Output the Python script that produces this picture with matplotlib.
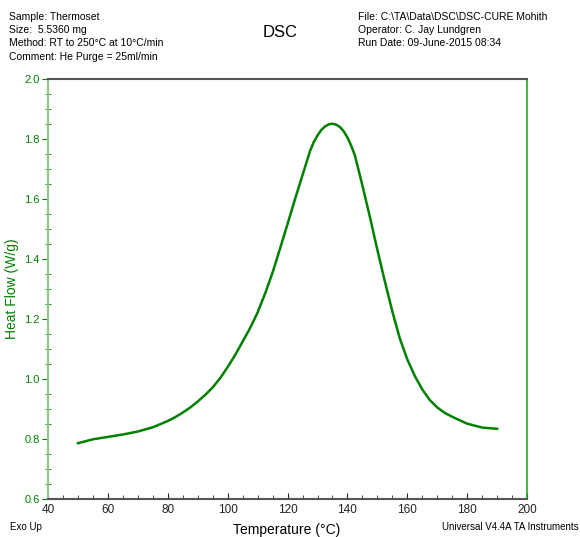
import matplotlib.pyplot as plt
from matplotlib.ticker import MultipleLocator

plt.rcParams['font.family'] = ['Liberation Sans Narrow', 'Liberation Sans', 'DejaVu Sans']

# DSC cure exotherm
temp = [50, 55, 60, 65, 70, 75, 80, 82.5, 85, 87.5, 90, 92.5, 95, 97.5,
        100, 102.5, 105, 107.5, 110, 112.5, 115, 117.5, 120, 122.5,
        125, 127.5, 128.75, 130, 131.25, 132.5, 133.75, 135, 136.25, 137.5,
        138.75, 140, 141.25, 142.5, 145, 147.5,
        150, 152.5, 155, 157.5, 160, 162.5, 165, 167.5, 170, 172.5, 175,
        180, 185, 190]
heat_flow = [0.786, 0.799, 0.807, 0.815, 0.825, 0.839, 0.860, 0.873, 0.888, 0.905,
             0.925, 0.947, 0.972, 1.003,
             1.04, 1.08, 1.125, 1.17, 1.222, 1.285, 1.355, 1.435, 1.517, 1.60,
             1.68, 1.76, 1.79, 1.812, 1.83, 1.842, 1.849, 1.851, 1.848, 1.84,
             1.826, 1.805, 1.778, 1.745, 1.645, 1.54,
             1.43, 1.325, 1.225, 1.135, 1.065, 1.01, 0.965, 0.93, 0.905, 0.887, 0.874,
             0.851, 0.838, 0.834]

header_left = ["Sample: Thermoset", "Size:  5.5360 mg",
               "Method: RT to 250\u00b0C at 10\u00b0C/min",
               "Comment: He Purge = 25ml/min"]
header_right = ["File: C:\\TA\\Data\\DSC\\DSC-CURE Mohith",
                "Operator: C. Jay Lundgren",
                "Run Date: 09-June-2015 08:34"]

green = '#008000'

fig = plt.figure(figsize=(5.8, 5.37), dpi=100)
ax = fig.add_axes([0.0828, 0.0708, 0.826, 0.782])

ax.plot(temp, heat_flow, color=green, linewidth=1.8, solid_joinstyle='round')

ax.set_xlim(40, 200)
ax.set_ylim(0.6, 2.0)
ax.xaxis.set_major_locator(MultipleLocator(20))
ax.xaxis.set_minor_locator(MultipleLocator(5))
ax.yaxis.set_major_locator(MultipleLocator(0.2))
ax.yaxis.set_minor_locator(MultipleLocator(0.05))
ax.yaxis.set_major_formatter(plt.FormatStrFormatter('%.1f'))

ax.tick_params(axis='x', which='both', direction='in', colors='#222222', labelsize=8.5)
ax.tick_params(axis='x', which='major', length=4)
ax.tick_params(axis='x', which='minor', length=3)
ax.tick_params(axis='y', which='major', direction='out', length=4, pad=2,
               colors=green, labelsize=8)
ax.tick_params(axis='y', which='minor', direction='inout', length=4, colors=green)

ax.spines['left'].set_color('#8cc88c')
ax.spines['left'].set_linewidth(1.5)
ax.spines['right'].set_color('#22aa22')
ax.spines['right'].set_linewidth(1.2)
ax.spines['top'].set_color('#555555')
ax.spines['top'].set_linewidth(1.5)
ax.spines['bottom'].set_color('#555555')
ax.spines['bottom'].set_linewidth(1.5)

ax.set_ylabel('Heat Flow (W/g)', color=green, fontsize=10)
ax.yaxis.set_label_coords(-0.06, 0.5)

fig.text(0.495, 0.013, 'Temperature (\u00b0C)', ha='center', va='center', fontsize=10)
fig.text(0.017, 0.019, 'Exo Up', ha='left', va='center', fontsize=7)
fig.text(0.997, 0.019, 'Universal V4.4A TA Instruments', ha='right', va='center', fontsize=7)

for i, line in enumerate(header_left):
    fig.text(0.015, 0.968 - i * 0.0245, line, ha='left', va='center', fontsize=7.5)
for i, line in enumerate(header_right):
    fig.text(0.617, 0.968 - i * 0.0245, line, ha='left', va='center', fontsize=7.5)
fig.text(0.483, 0.94, 'DSC', ha='center', va='center', fontsize=12)

fig.savefig('out.png', dpi=100)
